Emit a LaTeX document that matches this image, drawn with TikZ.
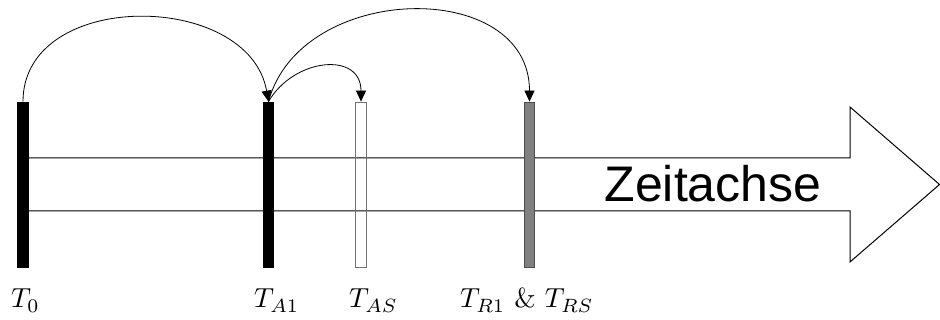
\documentclass[tikz,border=0pt]{standalone}
\usepackage{fontspec}
\newfontfamily\axisfont{Liberation Sans}
\usetikzlibrary{arrows.meta}
\newcommand{\biglbl}[1]{\scalebox{2.75}{#1}}
\begin{document}
\begin{tikzpicture}[x=1pt,y=-1pt,
  bar/.style={rectangle,inner sep=0pt,minimum width=10.5pt,minimum height=165pt,line width=0.8pt},
  arc/.style={line width=0.8pt,-{Triangle[length=11pt,width=10pt]}},
  lbl/.style={anchor=base west,inner sep=0pt},
  axis/.style={line width=1pt,fill=white,draw=black}]
\useasboundingbox (0,0) rectangle (940,320);
% time axis arrow
\draw[axis] (22,158) -- (850,158) -- (850,107) -- (939.5,184.5) -- (850,262) -- (850,211) -- (22,211);
\node[anchor=base,inner sep=0pt,font=\axisfont\fontsize{50}{60}\selectfont] (zeit) at (713,202) {Zeitachse};
% bars
\node[bar,fill=black,draw=black] (t0) at (23,184.5) {};
\node[bar,fill=black,draw=black] (ta1) at (268.5,184.5) {};
\node[bar,draw=black!55] (tas) at (361,184.5) {};
\node[bar,fill=black!50,draw=black!70] (tr1) at (529.5,184.5) {};
% labels
\node[lbl] (l0) at (11,308) {\biglbl{$T_0$}};
\node[lbl] (la1) at (254,308) {\biglbl{$T_{A1}$}};
\node[lbl] (las) at (349,308) {\biglbl{$T_{AS}$}};
\node[lbl] (lr) at (460,308) {\biglbl{$T_{R1}$ \& $T_{RS}$}};
% arcs
\draw[arc] (t0.north) to[out=90,in=100,looseness=1.18] (ta1.north);
\draw[arc] (ta1.north) to[out=60,in=90,looseness=1.4] (tas.north);
\draw[arc] (ta1.north) to[out=75,in=90,looseness=1.22] (tr1.north);
\end{tikzpicture}
\end{document}
